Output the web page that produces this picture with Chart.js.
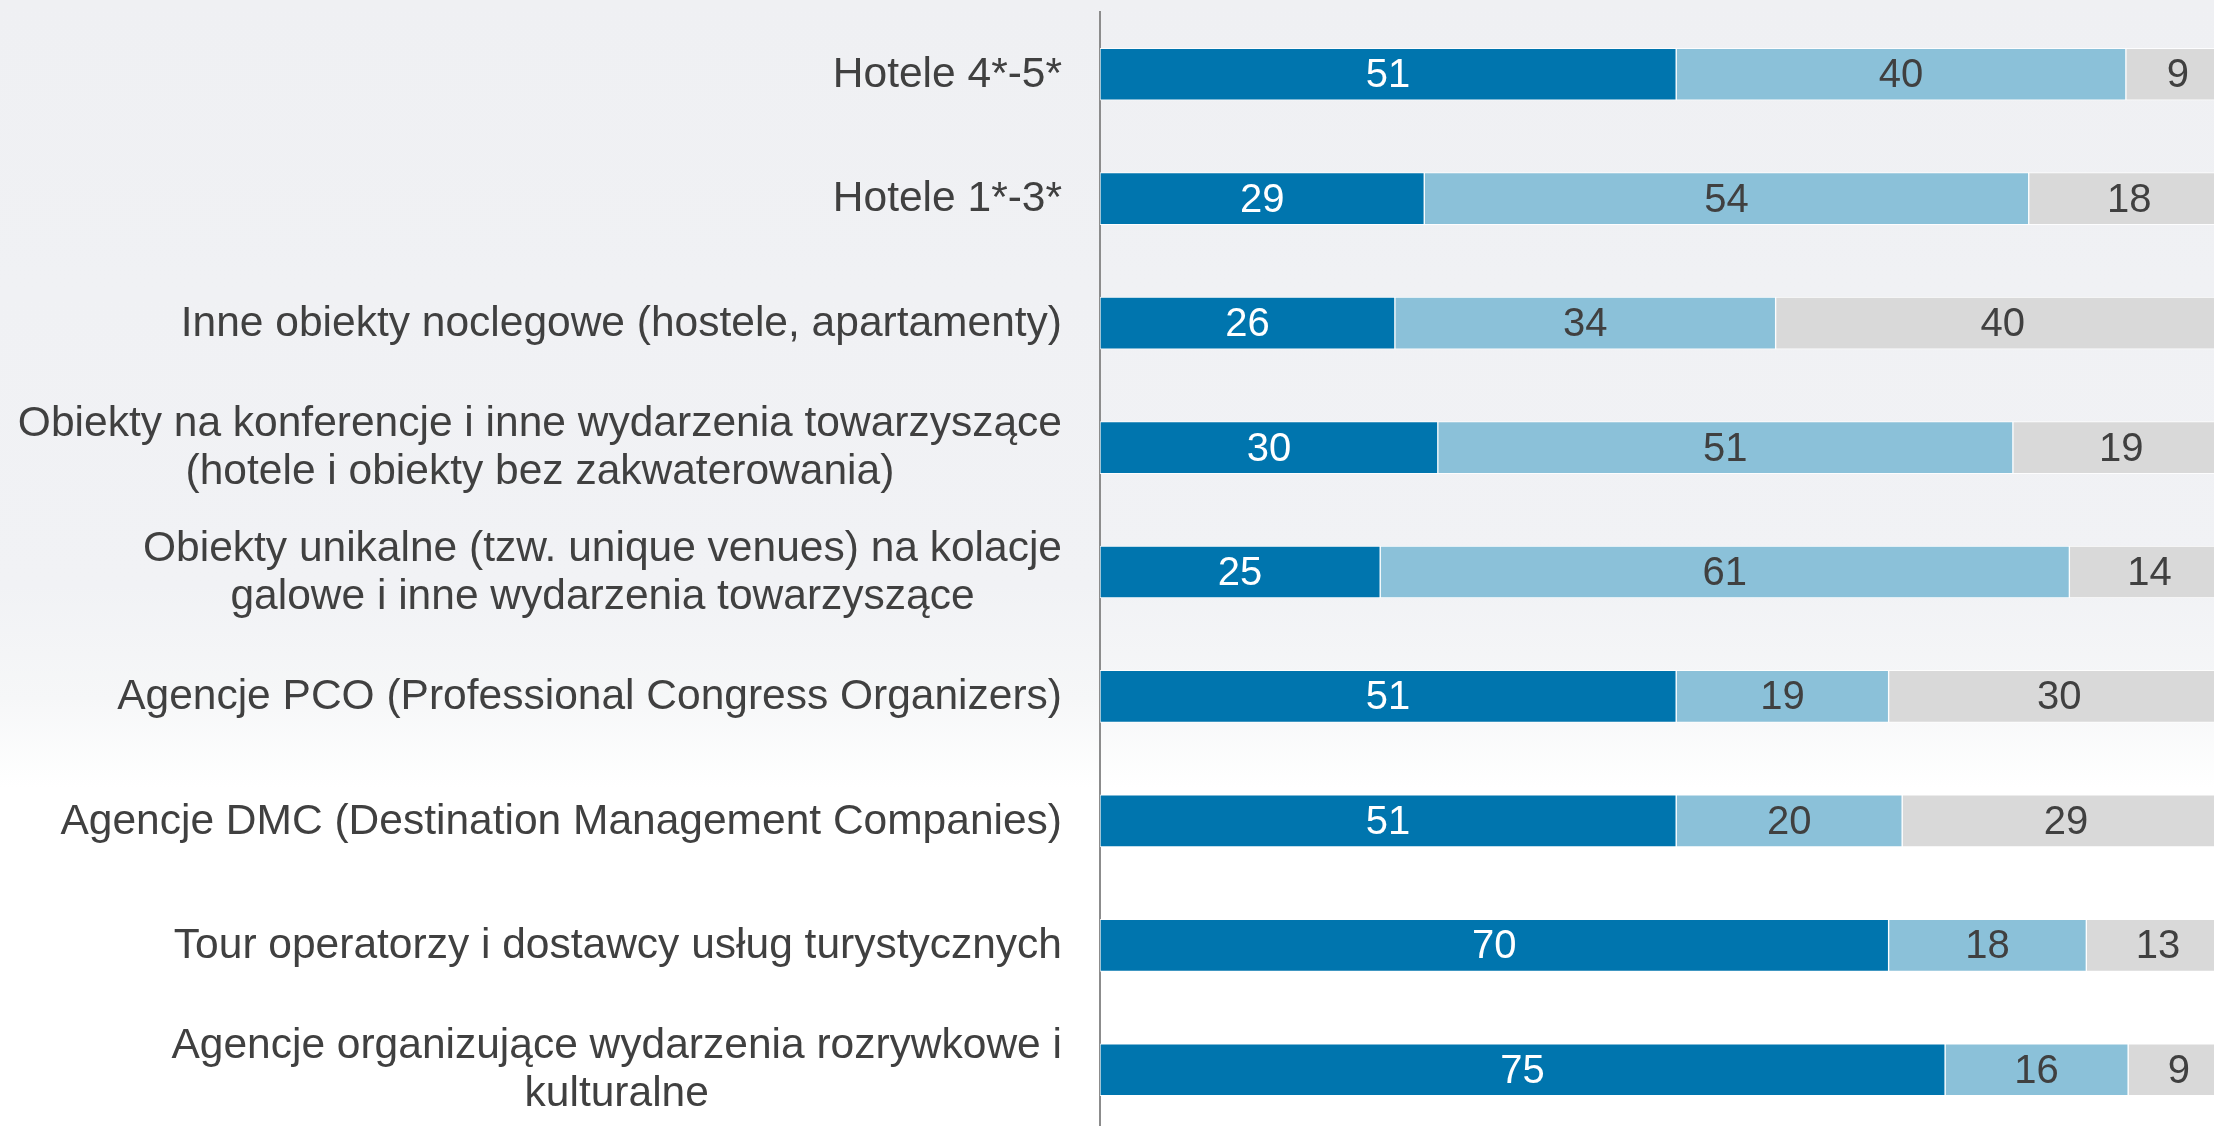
<!DOCTYPE html>
<html>
<head>
<meta charset="utf-8">
<script src="https://cdn.jsdelivr.net/npm/chart.js@4/dist/chart.umd.min.js"></script>
<style>
  html, body { margin: 0; padding: 0; overflow: hidden; }
  body {
    width: 2214px; height: 1126px;
    background: linear-gradient(to bottom, #eff0f3 0%, #f1f2f5 52%, #f6f7f8 62%, #ffffff 70%);
  }
  #wrap { position: relative; width: 2214px; height: 1136px; }
</style>
</head>
<body>
<div id="wrap"><canvas id="chart"></canvas></div>
<script>
// categories (multi-line labels as arrays)
const categories = [
  ["Hotele 4*-5*"],
  ["Hotele 1*-3*"],
  ["Inne obiekty noclegowe (hostele, apartamenty)"],
  ["Obiekty na konferencje i inne wydarzenia towarzyszące", "(hotele i obiekty bez zakwaterowania)"],
  ["Obiekty unikalne (tzw. unique venues) na kolacje", "galowe i inne wydarzenia towarzyszące"],
  ["Agencje PCO (Professional Congress Organizers)"],
  ["Agencje DMC (Destination Management Companies)"],
  ["Tour operatorzy i dostawcy usług turystycznych"],
  ["Agencje organizujące wydarzenia rozrywkowe i", "kulturalne"]
];

// shares in % (labels show them rounded)
const seriesA = [51, 28.7, 26.1, 29.9, 24.8, 51, 51, 69.8, 74.8];
const seriesB = [39.8, 53.5, 33.7, 50.9, 61, 18.8, 20, 17.5, 16.2];
const seriesC = [9.2, 17.8, 40.2, 19.2, 14.2, 30.2, 29, 12.7, 9];

const colors = ["#0075ae", "#8bc1d9", "#d9d9d9"];
const labelColors = ["#ffffff", "#404040", "#404040"];
const FONT = "'Liberation Sans', Arial, sans-serif";

// draws category labels (centred lines, block right-aligned) and values in bars
const labelPlugin = {
  id: "labels",
  afterDatasetsDraw(chart) {
    const ctx = chart.ctx;
    const yScale = chart.scales.y;
    ctx.save();
    // values
    ctx.font = "40px " + FONT;
    ctx.textAlign = "center";
    ctx.textBaseline = "middle";
    chart.data.datasets.forEach((ds, di) => {
      const meta = chart.getDatasetMeta(di);
      meta.data.forEach((bar, i) => {
        const cx = (bar.x + bar.base) / 2;
        ctx.fillStyle = labelColors[di];
        ctx.fillText(Math.round(ds.data[i]), cx, bar.y + 2);
      });
    });
    // category labels
    ctx.font = "42.5px " + FONT;
    ctx.fillStyle = "#404040";
    const right = 1062;
    const lineH = 48;
    categories.forEach((lines, i) => {
      const y = yScale.getPixelForValue(i);
      const w = Math.max(...lines.map(l => ctx.measureText(l).width));
      const cx = right - w / 2;
      const y0 = y - (lines.length - 1) * lineH / 2;
      lines.forEach((l, k) => ctx.fillText(l, cx, y0 + k * lineH + 1));
    });
    ctx.restore();
  }
};

const makeSet = (data, i) => ({
  data: data,
  backgroundColor: colors[i],
  borderColor: "rgba(255,255,255,0.85)",
  borderWidth: 1,
  borderSkipped: false,
  barThickness: 52
});

new Chart(document.getElementById("chart"), {
  type: "bar",
  data: {
    labels: categories,
    datasets: [makeSet(seriesA, 0), makeSet(seriesB, 1), makeSet(seriesC, 2)]
  },
  options: {
    indexAxis: "y",
    responsive: true,
    maintainAspectRatio: false,
    animation: false,
    layout: { padding: { top: 12, bottom: 4, left: 0, right: 0 } },
    plugins: { legend: { display: false }, tooltip: { enabled: false } },
    scales: {
      x: {
        stacked: true,
        min: 0,
        max: 98.6,
        display: false
      },
      y: {
        stacked: true,
        grid: { display: false },
        border: { display: true, color: "#8c8c8c", width: 2 },
        ticks: { display: false },
        afterFit: s => { s.width = 1100; }
      }
    }
  },
  plugins: [labelPlugin]
});
</script>
</body>
</html>
